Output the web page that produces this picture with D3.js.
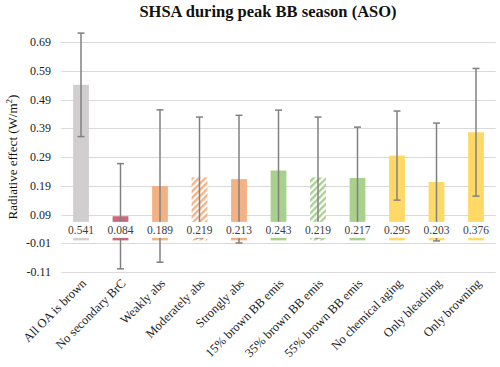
<!DOCTYPE html>
<html><head><meta charset="utf-8">
<script src="https://cdn.jsdelivr.net/npm/d3@7"></script>
<style>body{margin:0;background:#fff}svg{display:block}</style>
</head><body><svg id="c" width="500" height="367" font-family="'Liberation Serif', 'DejaVu Serif', serif"></svg>
<script>
const categories = ["All OA is brown","No secondary BrC","Weakly abs","Moderately abs","Strongly abs","15% brown BB emis","35% brown BB emis","55% brown BB emis","No chemical aging","Only bleaching","Only browning"];
const values = [0.541,0.084,0.189,0.219,0.213,0.243,0.219,0.217,0.295,0.203,0.376];
const errors = [0.18,0.183,0.265,0.21,0.222,0.21,0.21,0.177,0.155,0.205,0.222];
const colors = ["#d0cece","#c9697b","#f4b183","#f4b183","#f4b183","#a9d18e","#a9d18e","#a9d18e","#ffd966","#ffd966","#ffd966"];
const hatched = [false,false,false,true,false,false,true,false,false,false,false];
const yTicks = [-0.11,-0.01,0.09,0.19,0.29,0.39,0.49,0.59,0.69];
const title = "SHSA during peak BB season (ASO)";

const svg = d3.select("#c");
const m = {l:61.25, r:4.25, t:42, b:95};
const W = 500, H = 367;
const x = d3.scaleBand().domain(categories).range([m.l, W-m.r]).padding(0);
const y = d3.scaleLinear().domain([-0.11,0.69]).range([H-m.b, m.t]);
const bw = x.bandwidth()*0.4;

const defs = svg.append("defs");
["#f4b183","#a9d18e"].forEach((c,i)=>{
  const p = defs.append("pattern").attr("id","h"+i).attr("patternUnits","userSpaceOnUse")
    .attr("width",4.5).attr("height",4.5).attr("patternTransform","rotate(45)");
  p.append("rect").attr("width",4.5).attr("height",4.5).attr("fill","#fff");
  p.append("rect").attr("width",2.3).attr("height",4.5).attr("fill",c);
});

// gridlines
svg.append("g").selectAll("line").data(yTicks).join("line")
  .attr("x1",m.l).attr("x2",W-m.r).attr("y1",d=>Math.round(y(d))+0.5).attr("y2",d=>Math.round(y(d))+0.5)
  .attr("stroke","#d9d9d9").attr("stroke-width",1);
// tick labels
svg.append("g").selectAll("text").data(yTicks).join("text")
  .attr("x",51).attr("y",d=>y(d)).attr("dy","0.35em").attr("text-anchor","end")
  .attr("font-size",12).attr("fill","#222").text(d=>d.toFixed(2));

// bars
svg.append("g").selectAll("rect").data(categories).join("rect")
  .attr("x",d=>x(d)+x.bandwidth()/2-bw/2).attr("width",bw)
  .attr("y",(d,i)=>y(values[i])).attr("height",(d,i)=>y(0)-y(values[i]))
  .attr("fill",(d,i)=>hatched[i] ? (colors[i]==="#f4b183"?"url(#h0)":"url(#h1)") : colors[i]);

// error bars
const eg = svg.append("g").attr("stroke","#808080").attr("stroke-width",1.5);
categories.forEach((c,i)=>{
  const cx = x(c)+x.bandwidth()/2;
  const y1 = y(values[i]+errors[i]), y2 = y(values[i]-errors[i]);
  eg.append("line").attr("x1",cx).attr("x2",cx).attr("y1",y1).attr("y2",y2);
  eg.append("line").attr("x1",cx-3.5).attr("x2",cx+3.5).attr("y1",y1).attr("y2",y1);
  eg.append("line").attr("x1",cx-3.5).attr("x2",cx+3.5).attr("y1",y2).attr("y2",y2);
});

// data labels with white boxes
const lg = svg.append("g");
categories.forEach((c,i)=>{
  const cx = x(c)+x.bandwidth()/2;
  lg.append("rect").attr("x",cx-15.5).attr("width",31).attr("y",y(0)-18.5).attr("height",16).attr("fill","#fff");
  lg.append("text").attr("x",cx).attr("y",y(0)-6.5).attr("text-anchor","middle")
    .attr("font-size",11.5).attr("fill","#404040").text(values[i].toFixed(3));
});

// x labels
svg.append("g").selectAll("text").data(categories).join("text")
  .attr("transform",d=>`translate(${x(d)+x.bandwidth()/2+6},${H-m.b+12}) rotate(-45)`)
  .attr("text-anchor","end").attr("font-size",12.5).attr("fill","#222").text(d=>d);

// y label
svg.append("text").attr("transform",`translate(17,${(y(-0.11)+y(0.69))/2}) rotate(-90)`)
  .attr("text-anchor","middle").attr("font-size",13).attr("fill","#111")
  .html('Radiative effect (W/m<tspan baseline-shift="super" font-size="9">2</tspan>)');

// title
svg.append("text").attr("x",268).attr("y",17).attr("text-anchor","middle")
  .attr("font-size",16.5).attr("font-weight","bold").attr("fill","#111").text(title);
</script></body></html>
